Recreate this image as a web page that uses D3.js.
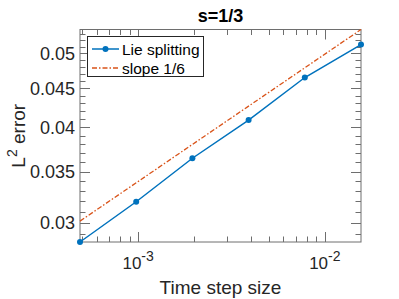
<!DOCTYPE html>
<html>
<head>
<meta charset="utf-8">
<script src="https://cdn.jsdelivr.net/npm/d3@7"></script>
<style>
  body { margin: 0; background: #fff; }
  svg text { font-family: "Liberation Sans", Arial, Helvetica, sans-serif; fill: #262626; }
</style>
</head>
<body>
<svg id="chart" width="399" height="299"></svg>
<script>
// time step sizes (2^-11 ... 2^-6)
const stepSizes = [0.00048828125, 0.0009765625, 0.001953125, 0.00390625, 0.0078125, 0.015625];
const lieError = [0.02831, 0.03196, 0.03644, 0.04088, 0.04648, 0.05133];
const slopeRef = [0.03015, 0.03384, 0.03799, 0.04264, 0.04786, 0.05372];
const yMajor = [0.03, 0.035, 0.04, 0.045, 0.05];
const xMajor = [1e-3, 1e-2];
const xMajorLabels = ['-3', '-2'];
const seriesNames = ['Lie splitting', 'slope 1/6'];

const blue = '#0072bd', orange = '#d95319', axisCol = '#6e6e6e';

const svg = d3.select('#chart');
const pLeft = 80, pRight = 361, pTop = 29.5, pBottom = 242;

const x = d3.scaleLog().domain([stepSizes[0], stepSizes[stepSizes.length - 1]]).range([pLeft, pRight]);
const y = d3.scaleLog()
  .domain([d3.min(lieError.concat(slopeRef)), d3.max(lieError.concat(slopeRef))])
  .range([pBottom, pTop]);

// minor ticks
const xMinor = [];
for (let e = -4; e <= -2; e++) {
  for (let m = 1; m <= 9; m++) {
    const v = m * Math.pow(10, e);
    if (v >= x.domain()[0] && v <= x.domain()[1]) xMinor.push(v);
  }
}
const yMinor = d3.range(28, 54).map(k => k / 1000)
  .filter(v => v >= y.domain()[0] && v <= y.domain()[1]);

const g = svg.append('g');

// box
g.append('rect')
  .attr('x', pLeft).attr('y', pTop)
  .attr('width', pRight - pLeft).attr('height', pBottom - pTop)
  .attr('fill', 'none').attr('stroke', axisCol).attr('stroke-width', 1);

function tickLen(isMajor) { return isMajor ? 10 : 5.5; }

// x ticks (bottom and top)
xMinor.forEach(v => {
  const major = xMajor.some(t => Math.abs(t - v) / t < 1e-9);
  const px = Math.round(x(v)) + 0.5;
  [[pBottom, -1], [pTop, 1]].forEach(([y0, dir]) => {
    g.append('line')
      .attr('x1', px).attr('x2', px)
      .attr('y1', y0).attr('y2', y0 + dir * tickLen(major))
      .attr('stroke', axisCol);
  });
});

// y ticks (left and right)
yMinor.forEach(v => {
  const major = yMajor.some(t => Math.abs(t - v) < 1e-9);
  const py = Math.round(y(v)) + 0.5;
  [[pLeft, 1], [pRight, -1]].forEach(([x0, dir]) => {
    g.append('line')
      .attr('y1', py).attr('y2', py)
      .attr('x1', x0).attr('x2', x0 + dir * tickLen(major))
      .attr('stroke', axisCol);
  });
});

// y tick labels
yMajor.forEach(v => {
  g.append('text')
    .attr('x', pLeft - 5).attr('y', y(v))
    .attr('dy', '0.36em')
    .attr('text-anchor', 'end')
    .style('font-size', '18px')
    .text(String(v));
});

// x tick labels 10^n
xMajor.forEach((v, i) => {
  const t = g.append('text')
    .attr('x', x(v)).attr('y', 269)
    .attr('text-anchor', 'middle')
    .style('font-size', '17px');
  t.append('tspan').text('10');
  t.append('tspan').attr('dy', -8).style('font-size', '14px').text(xMajorLabels[i]);
});

// axis labels
g.append('text')
  .attr('x', (pLeft + pRight) / 2).attr('y', 294)
  .attr('text-anchor', 'middle')
  .style('font-size', '19px')
  .text('Time step size');

const yl = g.append('text')
  .attr('transform', `translate(25, ${(pTop + pBottom) / 2}) rotate(-90)`)
  .attr('text-anchor', 'middle')
  .style('font-size', '19px');
yl.append('tspan').text('L');
yl.append('tspan').attr('dy', -8).style('font-size', '14px').text('2');
yl.append('tspan').attr('dy', 8).text(' error');

// title
g.append('text')
  .attr('x', (pLeft + pRight) / 2).attr('y', 22)
  .attr('text-anchor', 'middle')
  .style('font-size', '18px').style('font-weight', 'bold')
  .style('fill', '#000')
  .text('s=1/3');

// lines
const line = vals => d3.line().x((d, i) => x(stepSizes[i])).y(d => y(d))(vals);

g.append('path')
  .attr('d', line(slopeRef))
  .attr('fill', 'none').attr('stroke', orange)
  .attr('stroke-width', 1.3).attr('stroke-dasharray', '5,2,1.5,2');

g.append('path')
  .attr('d', line(lieError))
  .attr('fill', 'none').attr('stroke', blue).attr('stroke-width', 1.5);

g.selectAll('circle.pt')
  .data(lieError)
  .enter().append('circle')
  .attr('class', 'pt')
  .attr('cx', (d, i) => x(stepSizes[i]))
  .attr('cy', d => y(d))
  .attr('r', 3).attr('fill', blue);

// legend
const lg = g.append('g');
lg.append('rect')
  .attr('x', 87.5).attr('y', 36.5).attr('width', 116).attr('height', 40)
  .attr('fill', '#fff').attr('stroke', '#262626').attr('stroke-width', 1);
const rows = [49, 68];
lg.append('line').attr('x1', 92).attr('x2', 119).attr('y1', rows[0]).attr('y2', rows[0])
  .attr('stroke', blue).attr('stroke-width', 1.5);
lg.append('circle').attr('cx', 105.5).attr('cy', rows[0]).attr('r', 3).attr('fill', blue);
lg.append('line').attr('x1', 92).attr('x2', 119).attr('y1', rows[1]).attr('y2', rows[1])
  .attr('stroke', orange).attr('stroke-width', 1.3).attr('stroke-dasharray', '5,2,1.5,2');
seriesNames.forEach((n, i) => {
  lg.append('text')
    .attr('x', 122).attr('y', rows[i]).attr('dy', '0.36em')
    .style('font-size', '15.5px').style('fill', '#000')
    .text(n);
});
</script>
</body>
</html>
